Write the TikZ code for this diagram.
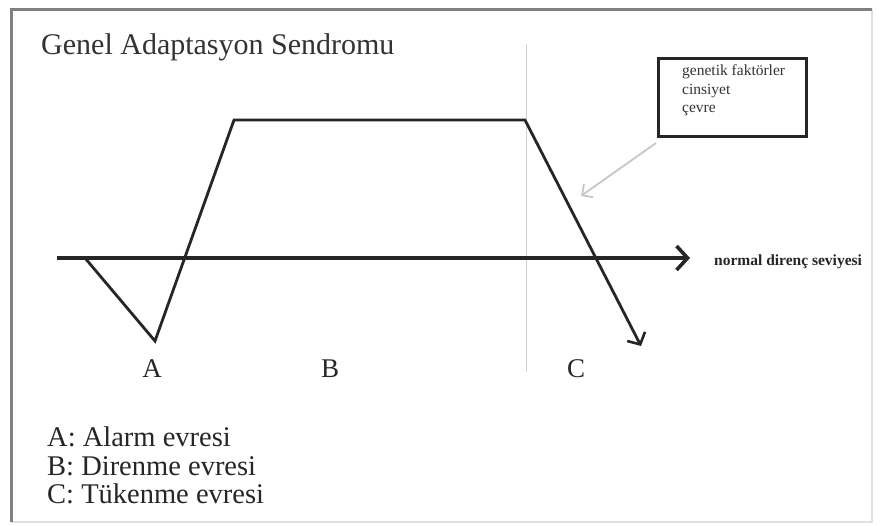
\documentclass[tikz,border=0pt]{standalone}
\usepackage{fontspec}
\setmainfont{Liberation Serif}
\usetikzlibrary{arrows.meta}
\begin{document}
\begin{tikzpicture}[x=1pt,y=-1pt,
  curve/.style={line width=2.8pt,draw=black!85,line join=miter},
  axisline/.style={line width=3.6pt,draw=black!85},
  lbl/.style={font=\fontsize{27}{30}\selectfont,text=black!85,inner sep=0pt},
  legend/.style={font=\fontsize{28.5}{31}\selectfont,text=black!85,inner sep=0pt,anchor=west},
  small/.style={font=\fontsize{15.5}{17}\selectfont\bfseries,text=black!85,inner sep=0pt,anchor=west},
  boxtext/.style={font=\fontsize{15.5}{17}\selectfont,text=black!80,inner sep=0pt,anchor=west}]
\useasboundingbox (0,0) rectangle (882,525);
\fill[white] (0,0) rectangle (882,525);
% frame
\draw[line width=1.5pt,draw=black!12] (872,9) -- (872,522) -- (11,522);
\draw[line width=3pt,draw=black!50] (11,522) -- (11,9) -- (872,9);
% title
\node[anchor=west,font=\fontsize{30}{34}\selectfont,text=black!80,inner sep=0pt] (title) at (41,47) {Genel Adaptasyon Sendromu};
% vertical separator
\coordinate (vt) at (526,44);
\coordinate (vb) at (526,372);
\draw[line width=1pt,draw=black!18] (vt) -- (vb);
% axis
\coordinate (axL) at (57,258);
\coordinate (axR) at (690,258);
\draw[axisline,-{Straight Barb[length=11pt,width=24pt,line width=3.6pt]}] (axL) -- (axR);
\node[small] (norm) at (714,262) {normal direnç seviyesi};
% curve
\coordinate (p0) at (85,258);
\coordinate (p1) at (155,341);
\coordinate (p2) at (234,120);
\coordinate (p3) at (525,120);
\coordinate (p4) at (641,346);
\draw[curve,-{Straight Barb[length=9pt,width=20pt,line width=2.6pt]}] (p0) -- (p1) -- (p2) -- (p3) -- (p4);
% phase labels
\node[lbl] (A) at (152,369) {A};
\node[lbl] (B) at (330,369) {B};
\node[lbl] (C) at (576,369) {C};
% legend
\node[legend] (la) at (47,437) {A: Alarm evresi};
\node[legend] (lb) at (47,466) {B: Direnme evresi};
\node[legend] (lc) at (47,494) {C: Tükenme evresi};
% factor box
\node[draw=black!85,line width=2.8pt,minimum width=148pt,minimum height=78pt,inner sep=0pt] (box) at (732.5,97.5) {};
\node[boxtext] (t1) at (682,72) {genetik faktörler};
\node[boxtext] (t2) at (682,91) {cinsiyet};
\node[boxtext] (t3) at (682,110) {çevre};
% gray pointer arrow
\coordinate (gs) at (656,143);
\coordinate (ge) at (581,196);
\draw[line width=1.8pt,draw=black!22,-{Straight Barb[length=8pt,width=16pt,line width=1.8pt]}] (gs) -- (ge);
\end{tikzpicture}
\end{document}
